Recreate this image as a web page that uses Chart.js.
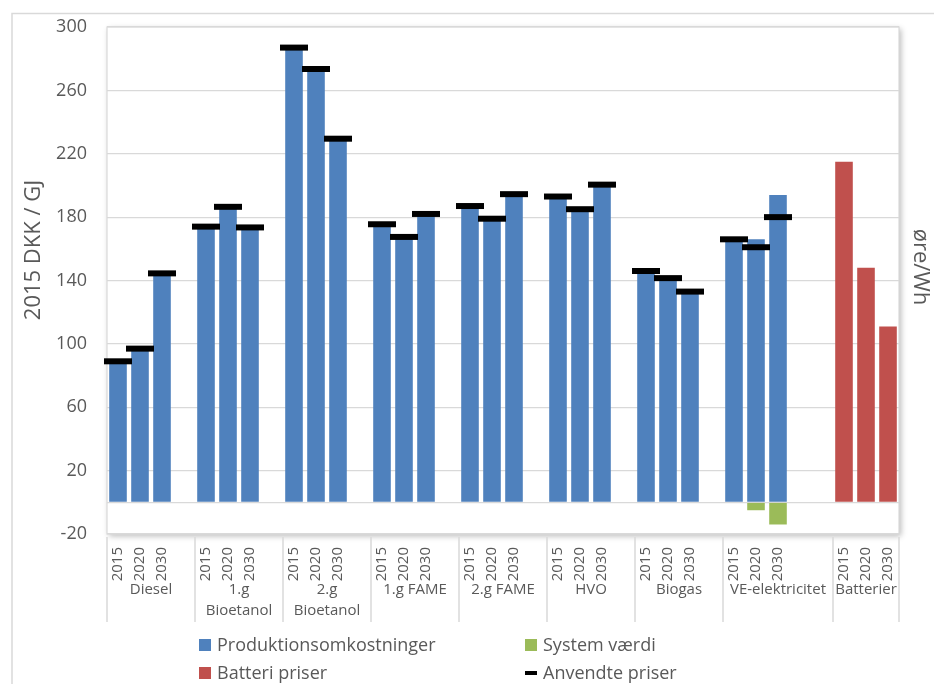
<!DOCTYPE html>
<html lang="da">
<head>
<meta charset="utf-8">
<title>Produktionsomkostninger for drivmidler</title>
<script src="https://cdn.jsdelivr.net/npm/chart.js@4.4.1/dist/chart.umd.min.js"></script>
<style>
  html, body { margin: 0; padding: 0; background: #fff; }
  canvas { display: block; }
</style>
</head>
<body>
<canvas id="graf" width="934" height="684"></canvas>
<script>
// Årstal pr. drivmiddel; de tomme pladser giver luft mellem grupperne
const aarLabels = [
  '2015', '2020', '2030', '',       // Diesel
  '2015', '2020', '2030', '',       // 1.g Bioetanol
  '2015', '2020', '2030', '',       // 2.g Bioetanol
  '2015', '2020', '2030', '',       // 1.g FAME
  '2015', '2020', '2030', '',       // 2.g FAME
  '2015', '2020', '2030', '',       // HVO
  '2015', '2020', '2030', '',       // Biogas
  '2015', '2020', '2030', '', '',   // VE-elektricitet
  '2015', '2020', '2030'            // Batterier
];

// Gruppenavne (linjeskift som i aksen) og antal pladser pr. gruppe
const grupper = [
  ['Diesel'], ['1.g', 'Bioetanol'], ['2.g', 'Bioetanol'], ['1.g FAME'],
  ['2.g FAME'], ['HVO'], ['Biogas'], ['VE-elektricitet'], ['Batterier']
];
const gruppePladser = [4, 4, 4, 4, 4, 4, 4, 5, 3];

// 2015 DKK / GJ
const produktion = [
  89, 97, 144.5, null,
  174, 186.5, 173.5, null,
  287, 273.5, 229.5, null,
  175.5, 167.5, 182, null,
  187, 179, 194.5, null,
  193, 185, 200.5, null,
  146, 141.5, 133, null,
  166, 166, 194, null, null,
  null, null, null
];
const systemVaerdi = [
  null, null, null, null,
  null, null, null, null,
  null, null, null, null,
  null, null, null, null,
  null, null, null, null,
  null, null, null, null,
  null, null, null, null,
  null, -5, -14, null, null,
  null, null, null
];
// øre/Wh
const batteriPriser = [
  null, null, null, null,
  null, null, null, null,
  null, null, null, null,
  null, null, null, null,
  null, null, null, null,
  null, null, null, null,
  null, null, null, null,
  null, null, null, null, null,
  215, 148, 111
];
const anvendtePriser = [
  89, 97, 144.5, null,
  174, 186.5, 173.5, null,
  287, 273.5, 229.5, null,
  175.5, 167.5, 182, null,
  187, 179, 194.5, null,
  193, 185, 200.5, null,
  146, 141.5, 133, null,
  166, 161, 180, null, null,
  null, null, null
];

const yTicks = { min: -20, max: 300, step: 40 };

const BLAA = '#4F81BD';
const GROEN = '#9BBB59';
const ROED = '#C0504D';
const TEKST = '#595959';
const LINJE = '#D9D9D9';
const FONT = '"Open Sans", "Noto Sans", sans-serif';

// Ramme om diagrammet og plotområdet (med skygge)
const rammer = {
  id: 'rammer',
  beforeDraw(chart) {
    const { ctx, chartArea: a } = chart;
    ctx.save();
    ctx.strokeStyle = LINJE;
    ctx.lineWidth = 1.5;
    ctx.beginPath();
    ctx.moveTo(12, chart.height);
    ctx.lineTo(12, 13.5);
    ctx.lineTo(chart.width, 13.5);
    ctx.stroke();

    ctx.shadowColor = 'rgba(0,0,0,0.28)';
    ctx.shadowBlur = 6;
    ctx.shadowOffsetX = 2;
    ctx.shadowOffsetY = 2;
    ctx.fillStyle = '#fff';
    ctx.fillRect(a.left, a.top, a.right - a.left, a.bottom - a.top);
    ctx.restore();
  },
  beforeDatasetsDraw(chart) {
    const { ctx, chartArea: a } = chart;
    ctx.save();
    ctx.strokeStyle = LINJE;
    ctx.lineWidth = 1.2;
    ctx.strokeRect(a.left, a.top, a.right - a.left, a.bottom - a.top);
    ctx.restore();
  }
};

// Gruppenavne under årstallene, skillelinjer, aksetitler og forklaring
const tekster = {
  id: 'tekster',
  afterDraw(chart) {
    const { ctx, chartArea: a } = chart;
    const x = chart.scales.x;
    const plads = x.getPixelForValue(1) - x.getPixelForValue(0);

    ctx.save();
    ctx.strokeStyle = LINJE;
    ctx.lineWidth = 1.5;
    ctx.fillStyle = TEKST;
    ctx.font = '15px ' + FONT;
    ctx.textAlign = 'center';
    ctx.textBaseline = 'middle';

    let start = 0;
    grupper.forEach((linjer, i) => {
      const n = gruppePladser[i];
      const venstre = x.getPixelForValue(start) - plads / 2;
      const hoejre = x.getPixelForValue(start + n - 1) + plads / 2;
      ctx.beginPath();
      ctx.moveTo(venstre, a.bottom + 3);
      ctx.lineTo(venstre, a.bottom + 88);
      if (i === grupper.length - 1) {
        ctx.moveTo(hoejre, a.bottom + 3);
        ctx.lineTo(hoejre, a.bottom + 88);
      }
      ctx.stroke();
      linjer.forEach((t, k) => {
        ctx.fillText(t, (venstre + hoejre) / 2, a.bottom + 56 + k * 21);
      });
      start += n;
    });

    // Aksetitler
    ctx.font = '22px ' + FONT;
    ctx.save();
    ctx.translate(34, 250);
    ctx.rotate(-Math.PI / 2);
    ctx.fillText('2015 DKK / GJ', 0, 0);
    ctx.restore();
    ctx.save();
    ctx.translate(920, 267);
    ctx.rotate(Math.PI / 2);
    ctx.fillText('øre/Wh', 0, 0);
    ctx.restore();

    // Forklaring i to kolonner
    const ds = chart.data.datasets;
    const felter = [
      [ds[1], 199, 645], [ds[2], 525, 645],
      [ds[3], 199, 673], [ds[0], 525, 673]
    ];
    ctx.font = '18px ' + FONT;
    ctx.textAlign = 'left';
    felter.forEach(([d, fx, fy]) => {
      if (d.type === 'line') {
        ctx.fillStyle = '#000';
        ctx.fillRect(fx, fy - 2, 12, 4);
      } else {
        ctx.fillStyle = d.backgroundColor;
        ctx.fillRect(fx, fy - 6, 12, 12);
      }
      ctx.fillStyle = TEKST;
      ctx.fillText(d.label, fx + 18, fy + 1);
    });
    ctx.restore();
  }
};

new Chart(document.getElementById('graf'), {
  data: {
    labels: aarLabels,
    datasets: [
      {
        type: 'line',
        label: 'Anvendte priser',
        data: anvendtePriser,
        stack: 'priser',
        showLine: false,
        pointStyle: 'line',
        pointRadius: 14,
        pointBorderWidth: 6,
        pointBorderColor: '#000',
        pointBackgroundColor: '#000',
        order: -1
      },
      {
        type: 'bar',
        label: 'Produktionsomkostninger',
        data: produktion,
        backgroundColor: BLAA,
        stack: 'omk'
      },
      {
        type: 'bar',
        label: 'System værdi',
        data: systemVaerdi,
        backgroundColor: GROEN,
        stack: 'omk'
      },
      {
        type: 'bar',
        label: 'Batteri priser',
        data: batteriPriser,
        backgroundColor: ROED,
        stack: 'omk'
      }
    ]
  },
  options: {
    responsive: false,
    animation: false,
    events: [],
    layout: { padding: { top: 27, right: 35, bottom: 0, left: 0 }, autoPadding: false },
    datasets: {
      bar: { categoryPercentage: 1, barPercentage: 0.8 }
    },
    plugins: {
      legend: { display: false },
      tooltip: { enabled: false }
    },
    scales: {
      x: {
        stacked: true,
        grid: { display: false },
        border: { display: false },
        ticks: {
          autoSkip: false,
          minRotation: 90,
          maxRotation: 90,
          padding: 5,
          color: TEKST,
          font: { family: FONT, size: 15 }
        },
        afterFit(scale) { scale.height = 150; }
      },
      y: {
        stacked: true,
        min: yTicks.min,
        max: yTicks.max,
        // usynlige tick-streger giver afstand mellem tal og plotområde
        grid: { color: LINJE, lineWidth: 1.2, drawTicks: true, tickLength: 17, tickColor: 'rgba(0,0,0,0)' },
        border: { display: false },
        ticks: {
          stepSize: yTicks.step,
          padding: 3,
          color: TEKST,
          font: { family: FONT, size: 18 },
          callback: (v) => (v === 0 ? '' : v)
        },
        // nul-linjen som ekstra gitterlinje
        afterBuildTicks(scale) {
          scale.ticks.push({ value: 0 });
          scale.ticks.sort((p, q) => p.value - q.value);
        },
        afterFit(scale) { scale.width = 107; }
      }
    }
  },
  plugins: [rammer, tekster]
});
</script>
</body>
</html>
